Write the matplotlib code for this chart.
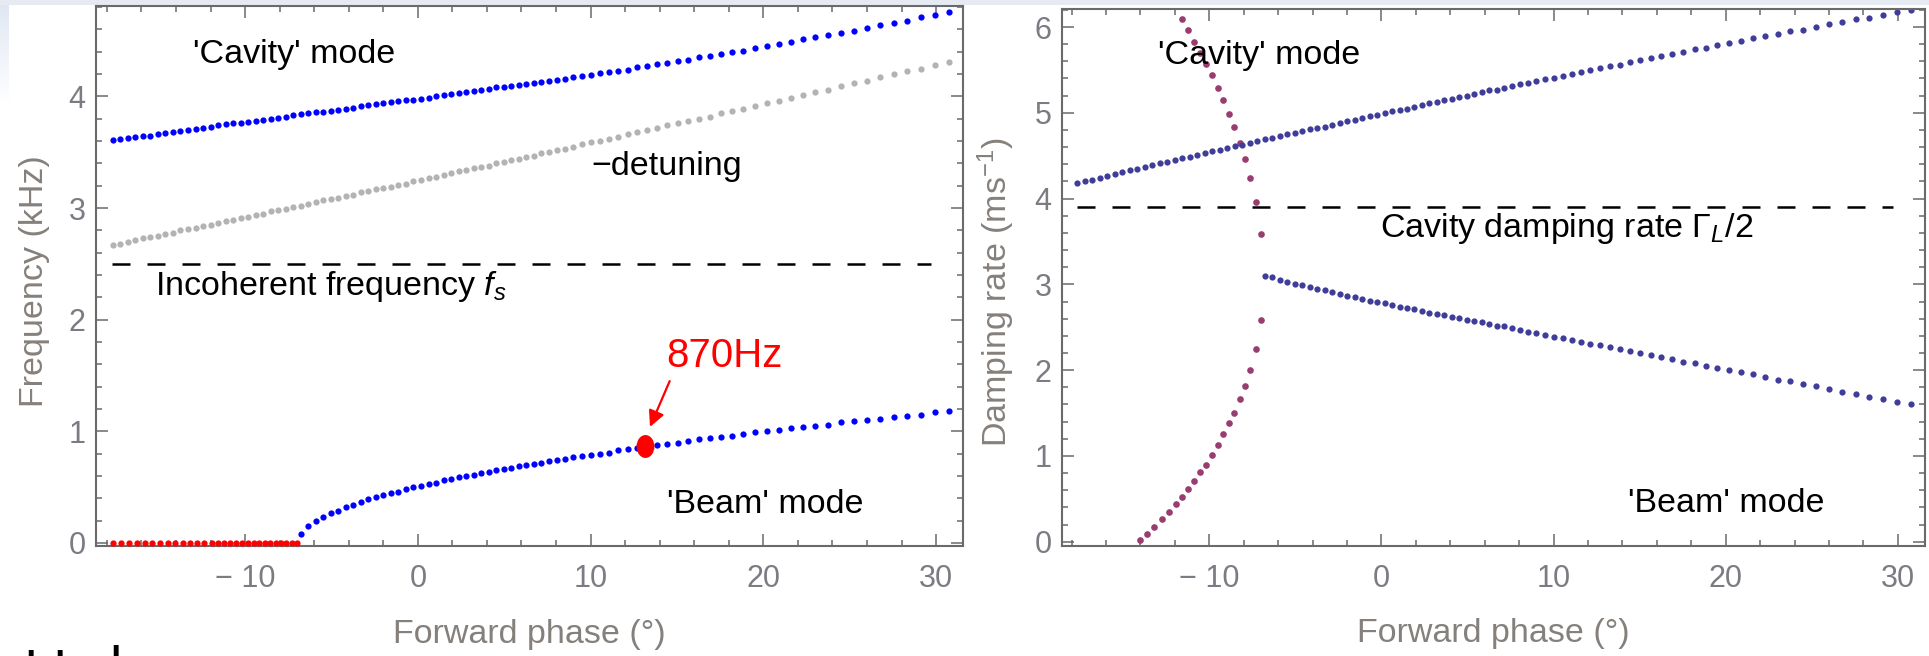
import matplotlib
matplotlib.use("Agg")
import matplotlib.pyplot as plt
import numpy as np
from matplotlib.ticker import MultipleLocator
from matplotlib.path import Path
from matplotlib.transforms import Affine2D
from matplotlib.patches import Rectangle

# ------------------------------------------------------------------ data
# forward phase samples (deg) for the 'cavity' mode branch
phase_cav = [-17.66, -17.22, -16.79, -16.35, -15.92, -15.48, -15.05, -14.61, -14.18, -13.74,
             -13.31, -12.87, -12.44, -12.0, -11.57, -11.13, -10.7, -10.26, -9.83, -9.39,
             -8.96, -8.52, -8.09, -7.65, -7.22, -6.78, -6.35, -5.91, -5.48, -5.04,
             -4.61, -4.17, -3.74, -3.3, -2.87, -2.43, -2.0, -1.56, -1.13, -0.69,
             -0.26, 0.18, 0.62, 1.05, 1.49, 1.92, 2.36, 2.79, 3.23, 3.66,
             4.1, 4.53, 4.97, 5.4, 5.84, 6.27, 6.71, 7.14, 7.58, 8.03,
             8.5, 8.99, 9.49, 10.0, 10.52, 11.05, 11.59, 12.14, 12.7, 13.27,
             13.85, 14.44, 15.04, 15.65, 16.27, 16.9, 17.54, 18.19, 18.85, 19.52,
             20.2, 20.89, 21.59, 22.3, 23.02, 23.75, 24.49, 25.24, 26.0, 26.77,
             27.55, 28.34, 29.14, 29.95, 30.77]
# cavity-mode frequency (kHz)
freq_cavity = [3.61, 3.62, 3.63, 3.64, 3.65, 3.65, 3.66, 3.67, 3.68, 3.69,
               3.70, 3.71, 3.72, 3.73, 3.74, 3.75, 3.76, 3.76, 3.77, 3.78,
               3.79, 3.80, 3.81, 3.82, 3.83, 3.84, 3.85, 3.86, 3.86, 3.87,
               3.88, 3.89, 3.90, 3.91, 3.92, 3.93, 3.94, 3.95, 3.96, 3.97,
               3.97, 3.98, 3.99, 4.00, 4.01, 4.02, 4.03, 4.04, 4.05, 4.06,
               4.07, 4.08, 4.08, 4.09, 4.10, 4.11, 4.12, 4.13, 4.14, 4.15,
               4.16, 4.17, 4.18, 4.19, 4.21, 4.22, 4.23, 4.24, 4.26, 4.27,
               4.29, 4.30, 4.32, 4.33, 4.35, 4.36, 4.38, 4.40, 4.41, 4.43,
               4.45, 4.47, 4.49, 4.51, 4.53, 4.55, 4.57, 4.59, 4.61, 4.64,
               4.66, 4.68, 4.71, 4.73, 4.76]
# minus detuning (kHz)
neg_detuning = [2.67, 2.68, 2.70, 2.71, 2.73, 2.74, 2.75, 2.77, 2.78, 2.80,
                2.81, 2.82, 2.84, 2.85, 2.87, 2.88, 2.89, 2.91, 2.92, 2.94,
                2.95, 2.97, 2.98, 2.99, 3.01, 3.02, 3.04, 3.05, 3.07, 3.08,
                3.09, 3.11, 3.12, 3.14, 3.15, 3.17, 3.18, 3.19, 3.21, 3.22,
                3.24, 3.25, 3.27, 3.28, 3.30, 3.31, 3.33, 3.34, 3.36, 3.37,
                3.38, 3.40, 3.41, 3.43, 3.44, 3.46, 3.47, 3.49, 3.50, 3.52,
                3.53, 3.55, 3.57, 3.59, 3.60, 3.62, 3.64, 3.66, 3.68, 3.70,
                3.72, 3.74, 3.76, 3.78, 3.80, 3.82, 3.85, 3.87, 3.89, 3.91,
                3.94, 3.96, 3.99, 4.01, 4.04, 4.06, 4.09, 4.12, 4.14, 4.17,
                4.20, 4.23, 4.25, 4.28, 4.31]
# cavity-mode damping rate (1/ms)
damp_cavity = [4.18, 4.20, 4.22, 4.24, 4.26, 4.29, 4.31, 4.33, 4.35, 4.37,
               4.39, 4.41, 4.43, 4.45, 4.47, 4.49, 4.51, 4.53, 4.55, 4.57,
               4.59, 4.61, 4.63, 4.65, 4.67, 4.69, 4.71, 4.73, 4.75, 4.77,
               4.79, 4.81, 4.82, 4.84, 4.86, 4.88, 4.90, 4.92, 4.94, 4.96,
               4.98, 5.00, 5.02, 5.03, 5.05, 5.07, 5.09, 5.11, 5.13, 5.15,
               5.16, 5.18, 5.20, 5.22, 5.24, 5.26, 5.27, 5.29, 5.31, 5.33,
               5.35, 5.37, 5.39, 5.41, 5.43, 5.45, 5.47, 5.50, 5.52, 5.54,
               5.56, 5.59, 5.61, 5.64, 5.66, 5.69, 5.71, 5.74, 5.76, 5.79,
               5.81, 5.84, 5.87, 5.89, 5.92, 5.95, 5.97, 6.00, 6.03, 6.06,
               6.09, 6.11, 6.14, 6.17, 6.20]

# 'beam' mode above threshold (same phase samples from -6.78 on)
phase_beam = phase_cav[25:]
freq_beam = [0.08, 0.15, 0.20, 0.23, 0.27,
             0.29, 0.32, 0.34, 0.37, 0.39, 0.41, 0.43, 0.45, 0.46, 0.48,
             0.50, 0.51, 0.53, 0.54, 0.56, 0.57, 0.59, 0.60, 0.61, 0.63,
             0.64, 0.65, 0.66, 0.67, 0.69, 0.70, 0.71, 0.72, 0.73, 0.74,
             0.75, 0.77, 0.78, 0.79, 0.80, 0.81, 0.83, 0.84, 0.85, 0.86,
             0.88, 0.89, 0.90, 0.91, 0.93, 0.94, 0.95, 0.96, 0.98, 0.99,
             1.00, 1.01, 1.03, 1.04, 1.05, 1.06, 1.08, 1.09, 1.10, 1.11,
             1.13, 1.14, 1.15, 1.17, 1.18]
damp_beam = [3.10, 3.08, 3.05, 3.03, 3.01,
             2.99, 2.97, 2.95, 2.93, 2.91, 2.89, 2.87, 2.85, 2.83, 2.81,
             2.80, 2.78, 2.76, 2.74, 2.73, 2.71, 2.69, 2.67, 2.66, 2.64,
             2.62, 2.61, 2.59, 2.57, 2.56, 2.54, 2.52, 2.51, 2.49, 2.47,
             2.45, 2.43, 2.41, 2.39, 2.37, 2.35, 2.33, 2.31, 2.29, 2.27,
             2.25, 2.22, 2.20, 2.18, 2.15, 2.13, 2.10, 2.08, 2.05, 2.03,
             2.00, 1.98, 1.95, 1.92, 1.89, 1.87, 1.84, 1.81, 1.78, 1.75,
             1.72, 1.69, 1.66, 1.63, 1.60]

# below threshold: beam mode frequency is zero, two real damping roots
phase_split = [-17.65, -17.19, -16.73, -16.27, -15.81, -15.36, -14.91, -14.47, -14.03, -13.62,
               -13.2, -12.77, -12.35, -11.93, -11.58, -11.22, -10.87, -10.54, -10.2, -9.84,
               -9.48, -9.18, -8.84, -8.55, -8.22, -7.93, -7.64, -7.3, -7.0]
freq_split = [0.0, 0.0, 0.0, 0.0, 0.0, 0.0, 0.0, 0.0, 0.0, 0.0,
              0.0, 0.0, 0.0, 0.0, 0.0, 0.0, 0.0, 0.0, 0.0, 0.0,
              0.0, 0.0, 0.0, 0.0, 0.0, 0.0, 0.0, 0.0, 0.0]
phase_root_low = phase_split[8:]
damp_root_low = [0.02, 0.09, 0.17, 0.26, 0.35, 0.44, 0.52, 0.61, 0.71, 0.81,
                 0.90, 1.01, 1.13, 1.25, 1.38, 1.50, 1.66, 1.81, 2.00, 2.25, 2.58]
phase_root_high = phase_split[14:]
damp_root_high = [6.09, 5.96, 5.83, 5.70, 5.57, 5.44, 5.29, 5.15, 4.99, 4.84,
                  4.65, 4.46, 4.24, 3.96, 3.59]

incoherent_fs = 2.5          # kHz
half_gamma_L = 3.90          # 1/ms
ref_phase_span = [-17.7, 29.7]
marker_phase = 13.14
marker_freq = 0.87

xticks = [-10, 0, 10, 20, 30]
xtick_labels = ["\u2212 10", "0", "10", "20", "30"]
yticks_left = [0, 1, 2, 3, 4]
yticks_right = [0, 1, 2, 3, 4, 5, 6]

# ------------------------------------------------------------------ style
plt.rcParams['font.family'] = ['Liberation Sans', 'DejaVu Sans']
plt.rcParams['mathtext.fontset'] = 'custom'
plt.rcParams['mathtext.rm'] = 'Liberation Sans'
plt.rcParams['mathtext.it'] = 'Liberation Sans:italic'
plt.rcParams['mathtext.bf'] = 'Liberation Sans:bold'

W, H = 1929, 656
fig = plt.figure(figsize=(W / 100, H / 100), dpi=100)
fig.patch.set_facecolor('white')

# slide background bits
fig.patches.append(Rectangle((0, 1 - 5 / H), 1, 5 / H, transform=fig.transFigure,
                             facecolor='#e5eaf3', edgecolor='none', zorder=-5))
bg = fig.add_axes([0, 1 - 105 / H, 9 / W, 105 / H], zorder=-6)
grad = np.linspace(1, 0, 50).reshape(-1, 1)
bg.imshow(grad, aspect='auto', cmap=matplotlib.colors.LinearSegmentedColormap.from_list(
    'g', ['#ffffff', '#dfe6f2']), vmin=0, vmax=1)
bg.axis('off')
# tops of the cut-off slide text below the picture
for xpx, ypx in [(30.5, 650), (59.0, 650), (115.5, 645)]:
    fig.text(xpx / W, 1 - ypx / H, 'l', fontsize=40, color='black', ha='center', va='top')

ax1 = fig.add_axes([96 / W, (H - 546) / H, 867 / W, 540 / H])
ax2 = fig.add_axes([1062 / W, (H - 546) / H, 863 / W, 537 / H])

SPINE = '#6a6a6a'
TICKLAB = '#7b7b84'
AXLAB = '#85807b'
BLUE = '#0000ff'
GRAY = '#b3b3b3'
RED = '#ff0000'
DBLUE = '#3f3d99'
PINK = '#993d71'
ms = 4.5

# ---------------- left panel: frequency
ax1.plot(phase_cav, neg_detuning, 'o', color=GRAY, ms=ms, mew=0)
ax1.plot(phase_cav, freq_cavity, 'o', color=BLUE, ms=ms, mew=0)
ax1.plot(phase_split, freq_split, 'o', color=RED, ms=ms, mew=0, clip_on=False, zorder=3)
ax1.plot(phase_beam, freq_beam, 'o', color=BLUE, ms=ms, mew=0)
l, = ax1.plot(ref_phase_span, [incoherent_fs, incoherent_fs], color='black', lw=1.8)
l.set_dashes([7.2, 6.8])

ell = Path.unit_circle().transformed(Affine2D().scale(0.78, 1.0))
ax1.plot([marker_phase], [marker_freq], marker=ell, color=RED, ms=16.5, mew=0, ls='none', zorder=5)
ax1.annotate('', xy=(13.44, 1.04), xytext=(14.58, 1.45),
             arrowprops=dict(arrowstyle='-|>', color=RED, lw=1.6, mutation_scale=24,
                             shrinkA=0, shrinkB=0))
ax1.text(14.41, 1.58, '870Hz', color=RED, fontsize=29, ha='left', va='baseline')

ax1.text(-13.0, 4.30, "'Cavity' mode", fontsize=24.5, color='black', ha='left', va='baseline')
ax1.text(10.07, 3.30, "\u2212detuning", fontsize=24.5, color='black', ha='left', va='baseline')
ax1.text(-15.21, 2.22, r"Incoherent frequency $f_s$", fontsize=24.5, color='black',
         ha='left', va='baseline')
ax1.text(14.41, 0.266, "'Beam' mode", fontsize=24.5, color='black', ha='left', va='baseline')

ax1.set_xlim(-18.63, 31.56)
ax1.set_ylim(-0.027, 4.81)
ax1.set_yticks(yticks_left)
ax1.set_yticklabels([str(v) for v in yticks_left])
ax1.set_ylabel('Frequency (kHz)', fontsize=24.5, color=AXLAB)
ax1.yaxis.set_label_coords(-0.053, 0.49)
ax1.yaxis.set_minor_locator(MultipleLocator(0.2))

# ---------------- right panel: damping
ax2.plot(phase_root_low, damp_root_low, 'o', color=PINK, ms=4.8, mew=0)
ax2.plot(phase_root_high, damp_root_high, 'o', color=PINK, ms=4.8, mew=0)
ax2.plot(phase_cav, damp_cavity, 'o', color=DBLUE, ms=ms, mew=0)
ax2.plot(phase_beam, damp_beam, 'o', color=DBLUE, ms=ms, mew=0)
l2, = ax2.plot(ref_phase_span, [half_gamma_L, half_gamma_L], color='black', lw=1.8)
l2.set_dashes([7.2, 6.8])

ax2.text(-12.96, 5.57, "'Cavity' mode", fontsize=24.5, color='black', ha='left', va='baseline')
ax2.text(-0.08, 3.55, r"Cavity damping rate $\Gamma_L/2$", fontsize=24.5, color='black',
         ha='left', va='baseline')
ax2.text(14.35, 0.35, "'Beam' mode", fontsize=24.5, color='black', ha='left', va='baseline')

ax2.set_xlim(-18.56, 31.58)
ax2.set_ylim(-0.05, 6.21)
ax2.set_yticks(yticks_right)
ax2.set_yticklabels([str(v) for v in yticks_right])
ax2.set_ylabel(r'Damping rate (ms$^{-1}$)', fontsize=24.5, color=AXLAB)
ax2.yaxis.set_label_coords(-0.052, 0.473)
ax2.yaxis.set_minor_locator(MultipleLocator(0.2))

for ax in (ax1, ax2):
    ax.set_xticks(xticks)
    ax.set_xticklabels(xtick_labels)
    ax.xaxis.set_minor_locator(MultipleLocator(2))
    ax.set_xlabel('Forward phase (\u00b0)', fontsize=24.5, color=AXLAB)
    ax.xaxis.set_label_coords(0.5, -0.135)
    ax.xaxis.label.set_va('top')
    for s in ax.spines.values():
        s.set_color(SPINE)
        s.set_linewidth(1.5)
    ax.tick_params(which='both', direction='in', top=True, right=True,
                   color=SPINE, width=1.1)
    ax.tick_params(which='major', length=8.5)
    ax.tick_params(which='minor', length=4.5)
    ax.tick_params(axis='x', which='major', pad=13, labelsize=22, labelcolor=TICKLAB)
    ax.tick_params(axis='y', which='major', pad=7.5, labelsize=22, labelcolor=TICKLAB)
    ax.set_facecolor('white')

fig.savefig('out.png', dpi=100)
